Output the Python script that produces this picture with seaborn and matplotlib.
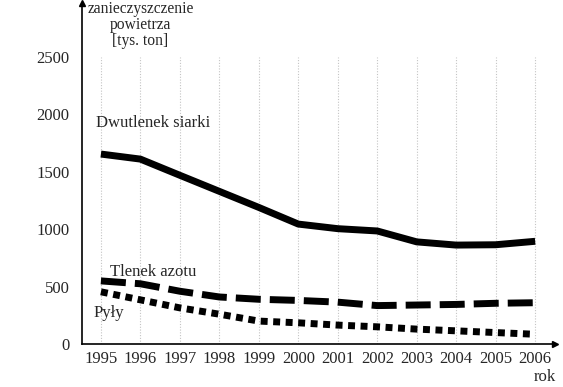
import matplotlib
matplotlib.use("Agg")
import matplotlib.pyplot as plt
import seaborn as sns
import pandas as pd

years = [1995, 1996, 1997, 1998, 1999, 2000, 2001, 2002, 2003, 2004, 2005, 2006]
so2 = [1655, 1611, 1470, 1330, 1190, 1045, 1005, 985, 890, 862, 865, 895]
nox = [550, 525, 460, 410, 390, 380, 365, 335, 340, 345, 355, 360]
dust = [455, 385, 315, 260, 200, 185, 165, 150, 130, 115, 100, 85]
series_names = ["Dwutlenek siarki", "Tlenek azotu", "Pyły"]
yticks = [0, 500, 1000, 1500, 2000, 2500]

df = pd.DataFrame({
    "rok": years * 3,
    "wartosc": so2 + nox + dust,
    "seria": [series_names[0]] * 12 + [series_names[1]] * 12 + [series_names[2]] * 12,
})

sns.set_style("white")
plt.rcParams["font.family"] = ["Liberation Serif", "DejaVu Serif"]
FS = 12

fig = plt.figure(figsize=(5.63, 3.87), dpi=100)
ax = fig.add_axes([0.1456, 0.111, 0.84, 0.881])

ax.vlines(years, 0, 2500, colors="#c4c4c4", linestyles=(0, (1, 1.5)), linewidth=0.8, zorder=0)

sns.lineplot(data=df, x="rok", y="wartosc", hue="seria", style="seria",
             palette=["black", "black", "black"],
             dashes={series_names[0]: "", series_names[1]: (3.6, 1.3), series_names[2]: (1.0, 0.8)},
             linewidth=5, legend=False, ax=ax)
for ln in ax.get_lines():
    ln.set_dash_capstyle("butt")
    ln.set_solid_capstyle("butt")
    ln.set_solid_joinstyle("round")

ax.set_xlim(1994.52, 2006.5)
ax.set_ylim(0, 2970)
ax.set_xticks(years)
ax.set_xticklabels([str(y) for y in years])
ax.set_yticks(yticks)
ax.set_yticklabels([str(v) for v in yticks])
ax.tick_params(axis="y", length=0, pad=9, labelsize=FS)
ax.tick_params(axis="x", direction="in", length=4, width=0.8, pad=5, labelsize=FS, color="black")
ax.set_xlabel("")
ax.set_ylabel("")
for s in ["top", "right"]:
    ax.spines[s].set_visible(False)
for s in ["left", "bottom"]:
    ax.spines[s].set_color("black")
    ax.spines[s].set_linewidth(1.2)
ax.plot(1, 0, ">k", transform=ax.transAxes, clip_on=False, markersize=5)
ax.plot(0, 1, "^k", transform=ax.transAxes, clip_on=False, markersize=5)

fig.text(0.2496, 0.997, "zanieczyszczenie\npowietrza\n[tys. ton]", ha="center", va="top",
         fontsize=11.2, linespacing=1.0)
fig.text(0.967, 0.005, "rok", ha="center", va="bottom", fontsize=FS)

ax.text(1994.88, 1860, series_names[0], ha="left", va="bottom", fontsize=FS)
ax.text(1995.22, 560, series_names[1], ha="left", va="bottom", fontsize=FS)
ax.text(1994.8, 200, series_names[2], ha="left", va="bottom", fontsize=FS)

fig.savefig("out.png", dpi=100)
